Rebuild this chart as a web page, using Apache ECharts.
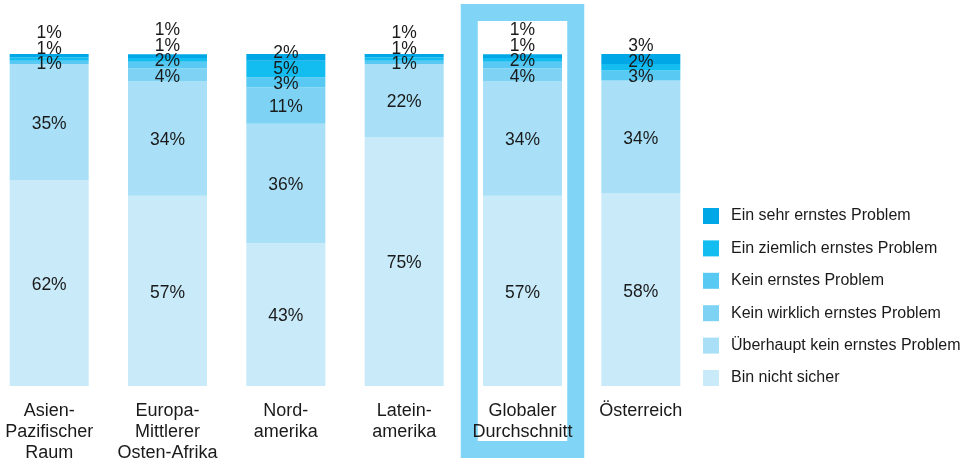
<!DOCTYPE html>
<html><head><meta charset="utf-8">
<script src="https://cdn.jsdelivr.net/npm/echarts@6/dist/echarts.min.js"></script>
<style>html,body{margin:0;padding:0;background:#fff;overflow:hidden}#c{width:983px;height:464px;margin-left:-10px}</style>
</head><body><div id="c"></div>
<script>
const categories = ['Asien-\nPazifischer\nRaum', 'Europa-\nMittlerer\nOsten-Afrika', 'Nord-\namerika', 'Latein-\namerika', 'Globaler\nDurchschnitt', 'Österreich'];
const seriesNames = ['Bin nicht sicher', 'Überhaupt kein ernstes Problem', 'Kein wirklich ernstes Problem', 'Kein ernstes Problem', 'Ein ziemlich ernstes Problem', 'Ein sehr ernstes Problem'];
const binNichtSicher = [62, 57.3, 43, 75, 57.3, 58];
const ueberhauptKein = [35, 34.4, 36, 22, 34.4, 34];
const keinWirklich   = [0, 4, 11, 0, 4, 0];
const keinErnstes    = [1, 2, 3, 1, 2, 3];
const einZiemlich    = [1, 1.1, 5, 1, 1.1, 2];
const einSehr        = [1, 1.1, 2, 1, 1.1, 3];
const colors = ['#c8eaf9', '#a9e0f8', '#7ed3f4', '#58c9f2', '#13bdf0', '#00a7e7'];
const highlighted = 'Globaler\nDurchschnitt';
const values = [binNichtSicher, ueberhauptKein, keinWirklich, keinErnstes, einZiemlich, einSehr];
const FONT = 'Liberation Sans, Arial, sans-serif';

const chart = echarts.init(document.getElementById('c'));
const option = {
  animation: false,
  grid: { left: 0, width: 710, top: 54, height: 334 },
  xAxis: {
    type: 'category', data: categories, z: 5,
    axisLine: { show: false }, axisTick: { show: false },
    axisLabel: { fontSize: 18, lineHeight: 21, color: '#1a1a1a', margin: 15, fontFamily: FONT, interval: 0 }
  },
  yAxis: { type: 'value', min: 0, max: 100, show: false },
  legend: {
    orient: 'vertical', left: 713, top: 208, padding: 0,
    itemWidth: 16, itemHeight: 16, itemGap: 16.4, icon: 'rect',
    data: seriesNames.slice().reverse(),
    textStyle: { fontSize: 16, color: '#1a1a1a', fontFamily: FONT, padding: [0, 0, 0, 7] }
  },
  series: values.map((arr, k) => ({
    name: seriesNames[k], type: 'bar', stack: 'all', barWidth: 79,
    itemStyle: { color: colors[k] },
    label: {
      show: true, position: 'inside', fontSize: 17.5, color: '#1a1a1a', fontFamily: FONT,
      formatter: p => p.value > 0 ? Math.round(p.value) + '%' : ''
    },
    data: arr.map(v => ({ value: v }))
  }))
};
chart.setOption(option);

// resolve overlapping labels within each bar (bottom-up)
const spacing = 15.5;
const newSeries = values.map(() => ({ data: [] }));
categories.forEach((c, i) => {
  let cum = 0, prev = Infinity;
  values.forEach((arr, k) => {
    const v = arr[i];
    const center = chart.convertToPixel({ gridIndex: 0 }, [i, cum + v / 2])[1];
    cum += v;
    let off = 0;
    if (v > 0) {
      const y = Math.min(center + 2, prev - spacing);
      off = y - center; prev = y;
    }
    newSeries[k].data.push({ value: v, label: { offset: [0, off] } });
  });
});
const gi = categories.indexOf(highlighted);
const cx = chart.convertToPixel({ gridIndex: 0 }, [gi, 0])[0];
const step = chart.convertToPixel({ gridIndex: 0 }, [1, 0])[0] - chart.convertToPixel({ gridIndex: 0 }, [0, 0])[0];
const half = step * 0.45;
chart.setOption({
  series: newSeries,
  graphic: [{
    type: 'rect', z: 0, silent: true,
    shape: { x: cx - half, y: 12.5, width: half * 2, height: 437 },
    style: { fill: 'none', stroke: '#80d4f5', lineWidth: 17 }
  }]
});
</script></body></html>
